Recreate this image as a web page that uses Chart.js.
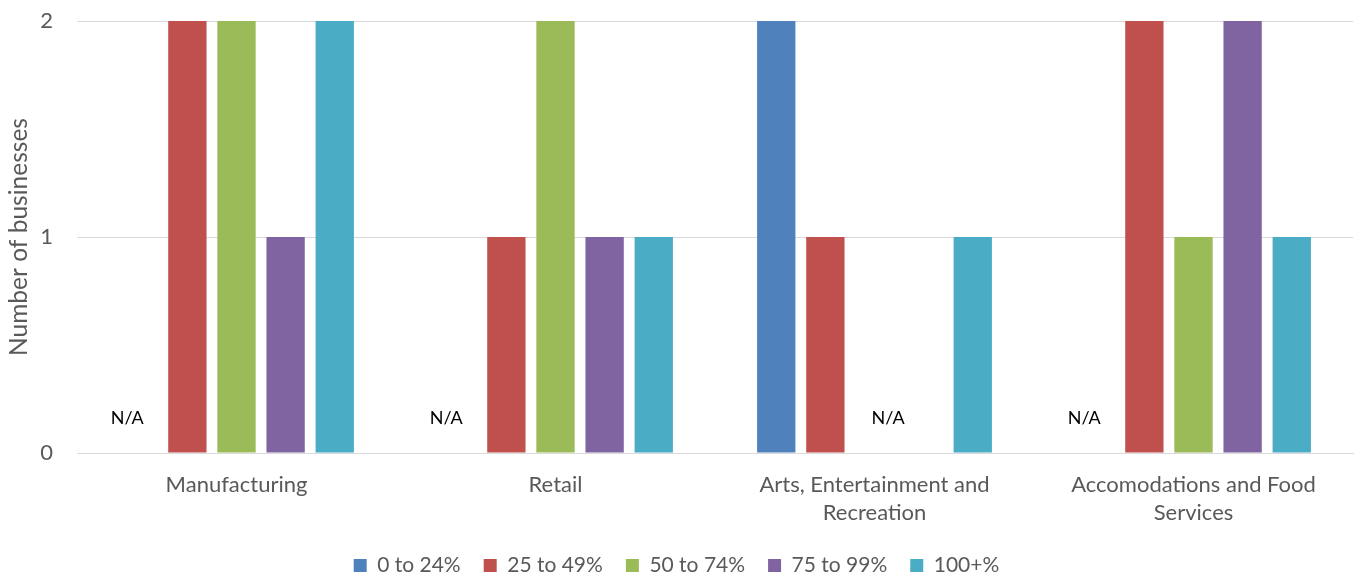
<!DOCTYPE html>
<html>
<head>
<meta charset="utf-8">
<script src="https://cdn.jsdelivr.net/npm/chart.js@4"></script>
<style>
html,body{margin:0;padding:0;background:#fff;}
#wrap{width:1357px;height:579px;position:relative;}
</style>
</head>
<body>
<div id="wrap"><canvas id="c"></canvas></div>
<script>
const categories = [
  "Manufacturing",
  "Retail",
  ["Arts, Entertainment and", "Recreation"],
  ["Accomodations and Food", "Services"]
];
const seriesNames = ["0 to 24%", "25 to 49%", "50 to 74%", "75 to 99%", "100+%"];
const s0to24   = [0, 0, 2, 0];
const s25to49  = [2, 1, 1, 2];
const s50to74  = [2, 2, 0, 1];
const s75to99  = [1, 1, 0, 2];
const s100plus = [2, 1, 1, 1];
const yTicks = [0, 1, 2];
const colors = ["#4F81BD", "#C0504D", "#9BBB59", "#8064A2", "#4BACC6"];
const FONT = "Lato, 'Open Sans', sans-serif";

const naPlugin = {
  id: 'naLabels',
  afterDatasetsDraw(chart) {
    const ctx = chart.ctx;
    const n = chart.data.labels.length;
    ctx.save();
    ctx.font = "18px " + FONT;
    ctx.fillStyle = "#000";
    ctx.textAlign = "center";
    ctx.textBaseline = "middle";
    for (let i = 0; i < n; i++) {
      const xs = [];
      chart.data.datasets.forEach((ds, di) => {
        if (ds.data[i] === 0) xs.push(chart.getDatasetMeta(di).data[i].x);
      });
      if (xs.length) {
        const x = xs.reduce((a, b) => a + b, 0) / xs.length - 11;
        const y = chart.scales.y.getPixelForValue(0) - 35;
        ctx.fillText("N/A", x, y);
      }
    }
    ctx.restore();
  }
};

new Chart(document.getElementById('c'), {
  type: 'bar',
  data: {
    labels: categories,
    datasets: [s0to24, s25to49, s50to74, s75to99, s100plus].map((d, i) => ({
      label: seriesNames[i],
      data: d,
      backgroundColor: colors[i],
      borderWidth: 0,
      categoryPercentage: 0.77,
      barPercentage: 0.78
    }))
  },
  options: {
    responsive: true,
    maintainAspectRatio: false,
    animation: false,
    layout: { padding: { top: 21, right: 4, left: 0, bottom: 0 } },
    plugins: {
      tooltip: { enabled: false },
      legend: {
        position: 'bottom',
        maxHeight: 47,
        labels: {
          boxWidth: 13, boxHeight: 13, padding: 23,
          color: '#595959',
          font: { family: FONT, size: 21 }
        }
      }
    },
    scales: {
      x: {
        afterFit(scale) { scale.height = 79; },
        grid: { display: false, drawTicks: false },
        border: { color: '#D9D9D9', width: 1 },
        ticks: {
          color: '#595959', padding: 18, maxRotation: 0, autoSkip: false,
          font: { family: FONT, size: 22, lineHeight: 1.27 }
        }
      },
      y: {
        min: 0, max: 2,
        afterFit(scale) { scale.width = 77; scale.paddingTop = 0; scale.paddingBottom = 0; },
        afterBuildTicks(scale) { scale.ticks = yTicks.map(v => ({ value: v })); },
        grid: { color: '#D9D9D9', drawTicks: false },
        border: { display: false },
        ticks: {
          color: '#595959', padding: 24,
          font: { family: FONT, size: 22 }
        },
        title: {
          display: true, text: 'Number of businesses', color: '#595959',
          font: { family: FONT, size: 24.5 }, padding: { top: 4, bottom: 4 }
        }
      }
    }
  },
  plugins: [naPlugin]
});
</script>
</body>
</html>
